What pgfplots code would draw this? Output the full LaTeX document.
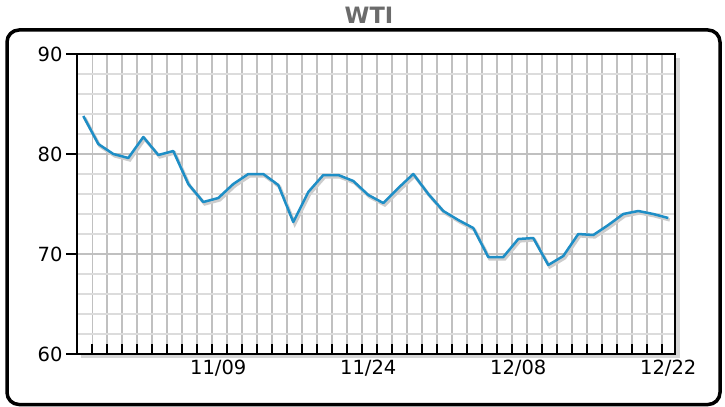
\documentclass[border=0pt]{standalone}
\usepackage{pgfplots}
\pgfplotsset{compat=1.18}
\usepackage{pgfplotstable}
\usepackage{fontspec}
\setmainfont{DejaVu Sans}
\definecolor{wtiblue}{RGB}{30,142,198}
\definecolor{vgrid}{RGB}{192,192,192}
\definecolor{hgrid}{RGB}{220,220,220}
\definecolor{titlegray}{RGB}{107,107,107}
\pgfplotstableread{
x y
0 83.8
1 81.0
2 80.0
3 79.6
4 81.7
5 79.9
6 80.3
7 77.0
8 75.2
9 75.6
10 77.0
11 78.0
12 78.0
13 76.9
14 73.2
15 76.2
16 77.9
17 77.9
18 77.3
19 75.9
20 75.1
21 76.6
22 78.0
23 76.0
24 74.3
25 73.4
26 72.6
27 69.7
28 69.7
29 71.5
30 71.6
31 68.9
32 69.8
33 72.0
34 71.9
35 72.9
36 74.0
37 74.3
38 74.0
39 73.6
}\wti
\begin{document}
\begin{tikzpicture}[x=1bp,y=1bp]
\fill[white] (0,0) rectangle (725,406);
\draw[line width=3.5bp, rounded corners=12bp] (7,1.5) rectangle (720,376);
\node[font=\fontsize{22.5bp}{25bp}\selectfont\bfseries, text=titlegray] at (369,391) {WTI};
\fill[black!16] (81,48) rectangle (680,348);
\begin{axis}[
  at={(77bp,52bp)}, anchor=south west,
  scale only axis, width=598bp, height=300bp,
  xmin=-0.42, xmax=39.45, ymin=60, ymax=90,
  axis background/.style={fill=white},
  axis line style={line width=2bp, black},
  tick align=inside,
  major tick length=10bp, minor tick length=0bp,
  xtick={0.6,1.6,...,38.6}, xticklabels={},
  xtick pos=left, ytick pos=left,
  xtick style={black, line width=2bp},
  extra x ticks={9,19,29,39},
  extra x tick labels={11/09,11/24,12/08,12/22},
  extra x tick style={grid=none, tick style={draw=none}},
  ytick={60,70,80,90},
  minor ytick={62,64,66,68,72,74,76,78,82,84,86,88},
  ytick style={black, line width=1.5bp, xshift=-11bp},
  xmajorgrids, ymajorgrids, yminorgrids,
  major grid style={vgrid, line width=1.6bp},
  minor grid style={hgrid, line width=1.6bp},
  tick label style={font=\fontsize{19.5bp}{21bp}\selectfont, text=black},
  /pgf/number format/assume math mode=true,
  yticklabel style={xshift=-11bp},
  xticklabel style={yshift=-3bp},
]
\addplot[black!20, line width=3.2bp, transform canvas={xshift=1.5bp, yshift=-2bp}] table[x=x, y=y] {\wti};
\addplot[wtiblue, line width=2.5bp, line join=round] table[x=x, y=y] {\wti};
\end{axis}
\end{tikzpicture}
\end{document}
